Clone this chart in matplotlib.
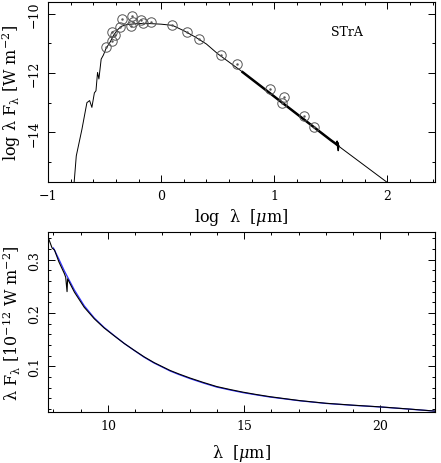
import matplotlib
matplotlib.use('Agg')
import matplotlib.pyplot as plt
from matplotlib.ticker import MultipleLocator

plt.rcParams['font.family'] = ['DejaVu Serif']
plt.rcParams['mathtext.fontset'] = 'dejavuserif'
plt.rcParams['mathtext.default'] = 'regular'

# --- top panel: SED (log lambda [um], log lambda F_lambda [W m^-2]) ---
model_logl = [-0.77, -0.75, -0.70, -0.656, -0.632, -0.612, -0.59, -0.576, -0.562,
              -0.55, -0.53, -0.51, -0.487, -0.45, -0.42, -0.38, -0.35, -0.30,
              -0.20, -0.10, 0.0, 0.1, 0.2, 0.3, 0.4, 0.5, 0.6, 0.7, 0.8, 1.0,
              1.2, 1.4, 1.6, 1.8, 2.0]
model_logf = [-15.75, -14.8, -13.9, -13.0, -12.93, -13.16, -12.67, -12.6, -11.98,
              -12.2, -11.53, -11.39, -11.17, -10.95, -10.72, -10.52, -10.42, -10.36,
              -10.33, -10.33, -10.35, -10.39, -10.57, -10.78, -11.02, -11.35, -11.63,
              -11.91, -12.20, -12.79, -13.38, -13.97, -14.56, -15.13, -15.70]

spec_logl = [0.72, 0.9, 1.1, 1.3, 1.5, 1.54, 1.55]
spec_logf = [-11.97, -12.50, -13.09, -13.68, -14.27, -14.38, -14.41]
spike_logl = [1.55, 1.555, 1.56, 1.562, 1.565, 1.57]
spike_logf = [-14.41, -14.30, -14.52, -14.35, -14.62, -14.45]

phot_logl = [-0.485, -0.43, -0.43, -0.41, -0.36, -0.35, -0.26, -0.264, -0.25,
             -0.18, -0.16, -0.09, 0.097, 0.23, 0.337, 0.525, 0.67, 0.963,
             1.084, 1.066, 1.26, 1.35]
phot_logf = [-11.13, -10.91, -10.60, -10.71, -10.44, -10.18, -10.07, -10.40, -10.26,
             -10.21, -10.32, -10.27, -10.38, -10.63, -10.86, -11.40, -11.71, -12.53,
             -12.82, -13.00, -13.46, -13.81]

# --- bottom panel: spectrum vs model (lambda [um], lambda F_lambda [1e-12 W m^-2]) ---
obs_lam = [7.82, 7.95, 8.04, 8.2, 8.40, 8.45, 8.50, 8.52, 8.77, 9.13, 9.50, 9.86,
           10.23, 10.60, 10.96, 11.33, 11.69, 12.0, 12.28, 12.6, 13.01, 13.5,
           13.99, 14.5, 14.96, 15.45, 15.94, 16.5, 17.04, 18.0, 19.0, 20.0, 21.0, 22.0]
obs_flux = [0.340, 0.322, 0.318, 0.296, 0.274, 0.267, 0.240, 0.264, 0.239, 0.2106,
            0.1890, 0.1718, 0.157, 0.1426, 0.130, 0.1175, 0.1068, 0.0990, 0.0920,
            0.0855, 0.0778, 0.0695, 0.0618, 0.0560, 0.0512, 0.0468, 0.0428, 0.0390,
            0.0354, 0.0304, 0.0268, 0.0236, 0.0198, 0.0157]

mod_lam = [8.0, 8.2, 8.40, 8.77, 9.13, 9.50, 9.86, 10.23, 10.60, 10.96, 11.33,
           11.69, 12.0, 12.28, 12.6, 13.01, 13.5, 13.99, 14.5, 14.96, 15.45,
           15.94, 16.5, 17.04, 18.0, 19.0, 20.0, 21.0, 22.0]
mod_flux = [0.322, 0.301, 0.279, 0.243, 0.2135, 0.1905, 0.1728, 0.1575, 0.1426,
            0.1297, 0.1168, 0.1060, 0.0982, 0.0910, 0.0844, 0.0767, 0.0684, 0.0608,
            0.0551, 0.0503, 0.0461, 0.0421, 0.0385, 0.0350, 0.0301, 0.0265, 0.0234,
            0.0196, 0.0156]

fig = plt.figure(figsize=(4.41, 4.64), dpi=100)
ax1 = fig.add_axes([0.1088, 0.6056, 0.8776, 0.388])
ax2 = fig.add_axes([0.1088, 0.1099, 0.8776, 0.388])

ax1.plot(model_logl, model_logf, color='black', lw=0.7)
ax1.plot(spec_logl, spec_logf, color='black', lw=1.8)
ax1.plot(spike_logl, spike_logf, color='black', lw=1.0)
ax1.plot(phot_logl, phot_logf, ls='none', marker='o', ms=6.8, mfc='none',
         mec='#555555', mew=0.7)
ax1.plot(phot_logl, phot_logf, ls='none', marker='.', ms=1.5, color='#555555')
ax1.text(0.773, 0.835, 'STrA', transform=ax1.transAxes, ha='center', va='center',
         fontsize=9)
ax1.set_xlim(-1, 2.42)
ax1.set_ylim(-15.68, -9.6)
ax1.xaxis.set_major_locator(MultipleLocator(1))
ax1.xaxis.set_minor_locator(MultipleLocator(0.2))
ax1.yaxis.set_major_locator(MultipleLocator(2))
ax1.yaxis.set_minor_locator(MultipleLocator(1))
ax1.set_xlabel(r'log  $\lambda$  [$\mathit{\mu}$m]', fontsize=11.5, va='center')
ax1.set_ylabel(r'log $\lambda$ F$_\lambda$ [W m$^{-2}$]', fontsize=11.5, va='center')
ax1.xaxis.set_label_coords(0.5, -0.194)
ax1.yaxis.set_label_coords(-0.093, 0.5)

ax2.plot(obs_lam, obs_flux, color='black', lw=0.8, zorder=3)
ax2.plot(mod_lam, mod_flux, color='#3030ff', lw=0.9, zorder=2)
ax2.set_xlim(7.8, 22.0)
ax2.set_ylim(0.014, 0.352)
ax2.xaxis.set_major_locator(MultipleLocator(5))
ax2.xaxis.set_minor_locator(MultipleLocator(1))
ax2.yaxis.set_major_locator(MultipleLocator(0.1))
ax2.yaxis.set_minor_locator(MultipleLocator(0.02))
ax2.set_xlabel(r'$\lambda$  [$\mathit{\mu}$m]', fontsize=11.5, va='center')
ax2.set_ylabel(r'$\lambda$ F$_\lambda$ [10$^{-12}$ W m$^{-2}$]', fontsize=11.5, va='center')
ax2.xaxis.set_label_coords(0.5, -0.226)
ax2.yaxis.set_label_coords(-0.093, 0.5)

for ax in (ax1, ax2):
    ax.tick_params(which='both', direction='in', top=True, right=True,
                   width=0.7, labelsize=9, colors='black')
    ax.tick_params(which='major', length=5, pad=5)
    ax.tick_params(which='minor', length=2.5)
    ax.tick_params(axis='y', labelrotation=90)
    for lab in ax.get_yticklabels():
        lab.set_va('center')
    for sp in ax.spines.values():
        sp.set_linewidth(0.8)

fig.savefig('out.png', dpi=100)
